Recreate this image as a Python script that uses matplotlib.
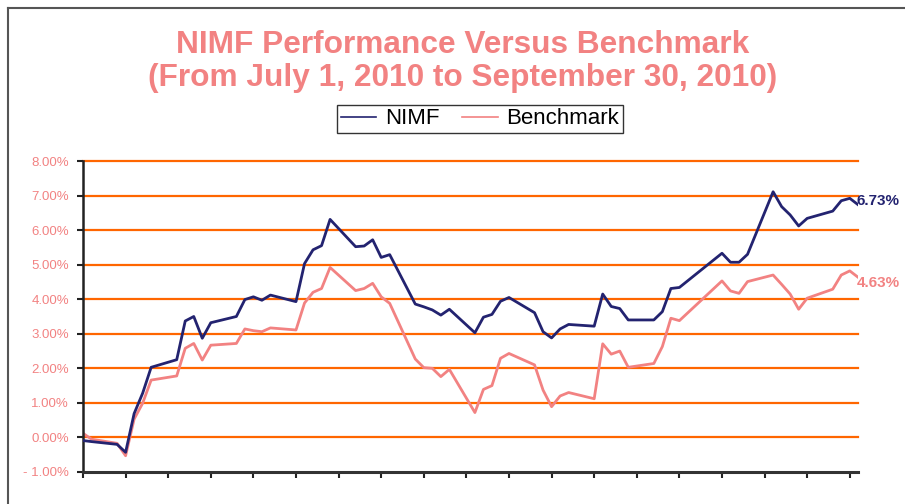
import matplotlib
matplotlib.use("Agg")
from matplotlib import pyplot as plt
from matplotlib.lines import Line2D
import pandas as pd

dates = ["07-01", "07-02", "07-05", "07-06", "07-07", "07-08", "07-09",
         "07-12", "07-13", "07-14", "07-15", "07-16",
         "07-19", "07-20", "07-21", "07-22", "07-23",
         "07-26", "07-27", "07-28", "07-29", "07-30",
         "08-02", "08-03", "08-04", "08-05", "08-06",
         "08-09", "08-10", "08-11", "08-12", "08-13",
         "08-16", "08-17", "08-18", "08-19", "08-20",
         "08-23", "08-24", "08-25", "08-26", "08-27",
         "08-30", "08-31", "09-01", "09-02", "09-03",
         "09-06", "09-07", "09-08", "09-09",
         "09-14", "09-15", "09-16", "09-17",
         "09-20", "09-21", "09-22", "09-23", "09-24",
         "09-27", "09-28", "09-29", "09-30"]

nimf = [-0.09, -0.12, -0.20, -0.43, 0.69, 1.28, 2.03,
        2.25, 3.37, 3.50, 2.87, 3.32,
        3.50, 3.99, 4.07, 3.97, 4.12,
        3.93, 5.03, 5.43, 5.55, 6.31,
        5.52, 5.54, 5.72, 5.21, 5.29,
        3.86, 3.78, 3.69, 3.54, 3.71,
        3.03, 3.48, 3.56, 3.94, 4.05,
        3.61, 3.06, 2.88, 3.14, 3.27,
        3.22, 4.15, 3.79, 3.73, 3.40,
        3.40, 3.64, 4.31, 4.34,
        5.33, 5.07, 5.07, 5.30,
        7.11, 6.68, 6.44, 6.12, 6.34,
        6.55, 6.85, 6.92, 6.73]

bench = [0.12, -0.05, -0.17, -0.53, 0.53, 0.99, 1.66,
         1.78, 2.58, 2.72, 2.24, 2.67,
         2.72, 3.14, 3.09, 3.06, 3.17,
         3.11, 3.89, 4.20, 4.31, 4.92,
         4.25, 4.31, 4.46, 4.07, 3.88,
         2.27, 2.02, 2.00, 1.76, 1.97,
         0.72, 1.39, 1.50, 2.29, 2.43,
         2.10, 1.37, 0.89, 1.20, 1.30,
         1.12, 2.71, 2.41, 2.50, 2.03,
         2.14, 2.63, 3.45, 3.38,
         4.53, 4.24, 4.17, 4.51,
         4.70, 4.43, 4.15, 3.71, 4.03,
         4.29, 4.70, 4.82, 4.63]

yticks = [-1, 0, 1, 2, 3, 4, 5, 6, 7, 8]
ylabels = ["- 1.00%", "0.00%", "1.00%", "2.00%", "3.00%", "4.00%",
           "5.00%", "6.00%", "7.00%", "8.00%"]

navy = "#232370"
pink = "#F28282"
orange = "#FF6600"

plt.rcParams["font.family"] = ["Liberation Sans", "DejaVu Sans"]

x = pd.to_datetime(["2010-" + d for d in dates])

fig = plt.figure(figsize=(9.05, 5.04), dpi=100)
ax = fig.add_axes([83 / 905, 1 - 472 / 504, (858.3 - 83) / 905, (472 - 161) / 504])

for v in yticks[1:]:
    ax.axhline(v, color=orange, lw=1.6, zorder=1, clip_on=False)

ax.plot(x, nimf, color=navy, lw=2.0, label="NIMF", zorder=3)
ax.plot(x, bench, color=pink, lw=2.0, label="Benchmark", zorder=2)

ax.set_xlim(pd.Timestamp("2010-07-01"), pd.Timestamp("2010-09-30"))
ax.set_ylim(-1, 8)
ax.set_xticks(pd.date_range("2010-07-01", "2010-09-29", freq="5D"))
ax.set_xticklabels([])
ax.set_yticks(yticks)
ax.set_yticklabels(ylabels, color=pink, fontsize=9.5)
ax.tick_params(axis="y", length=4, width=1.5, pad=6, color="#222222")
ax.tick_params(axis="x", length=4.5, width=1.5, color="#222222")
for s in ["top", "right"]:
    ax.spines[s].set_visible(False)
ax.spines["left"].set_color("#222222")
ax.spines["left"].set_linewidth(1.8)
ax.spines["bottom"].set_color("#333333")
ax.spines["bottom"].set_linewidth(2.2)
ax.set_facecolor("white")

ax.annotate("%.2f%%" % nimf[-1], (x[-1], nimf[-1]), xytext=(-1, 3),
            textcoords="offset points", color=navy, fontsize=11,
            fontweight="bold", va="center", ha="left", annotation_clip=False)
ax.annotate("%.2f%%" % bench[-1], (x[-1], bench[-1]), xytext=(-1, -4),
            textcoords="offset points", color=pink, fontsize=11,
            fontweight="bold", va="center", ha="left", annotation_clip=False)

fig.text(0.511, 1 - 45 / 504, "NIMF Performance Versus Benchmark",
         ha="center", va="center", color=pink, fontsize=22.8, fontweight="bold")
fig.text(0.511, 1 - 78 / 504, "(From July 1, 2010 to September 30, 2010)",
         ha="center", va="center", color=pink, fontsize=22.8, fontweight="bold")

leg = fig.legend(loc="center", bbox_to_anchor=(480 / 905, 1 - 119 / 504),
                 ncol=2, frameon=True, fancybox=False, fontsize=16,
                 handlelength=1.6, handletextpad=0.4, columnspacing=1.0,
                 borderpad=0.15)
leg.get_frame().set_edgecolor("black")
leg.get_frame().set_linewidth(1.0)
for h in leg.get_lines():
    h.set_linewidth(1.2)

# page frame (top and left edges)
fig.add_artist(Line2D([8 / 905, 8 / 905], [0, 1 - 8 / 504], color="#555555", lw=1.5))
fig.add_artist(Line2D([8 / 905, 1], [1 - 8 / 504, 1 - 8 / 504], color="#555555", lw=1.5))

fig.savefig("out.png", dpi=100)
